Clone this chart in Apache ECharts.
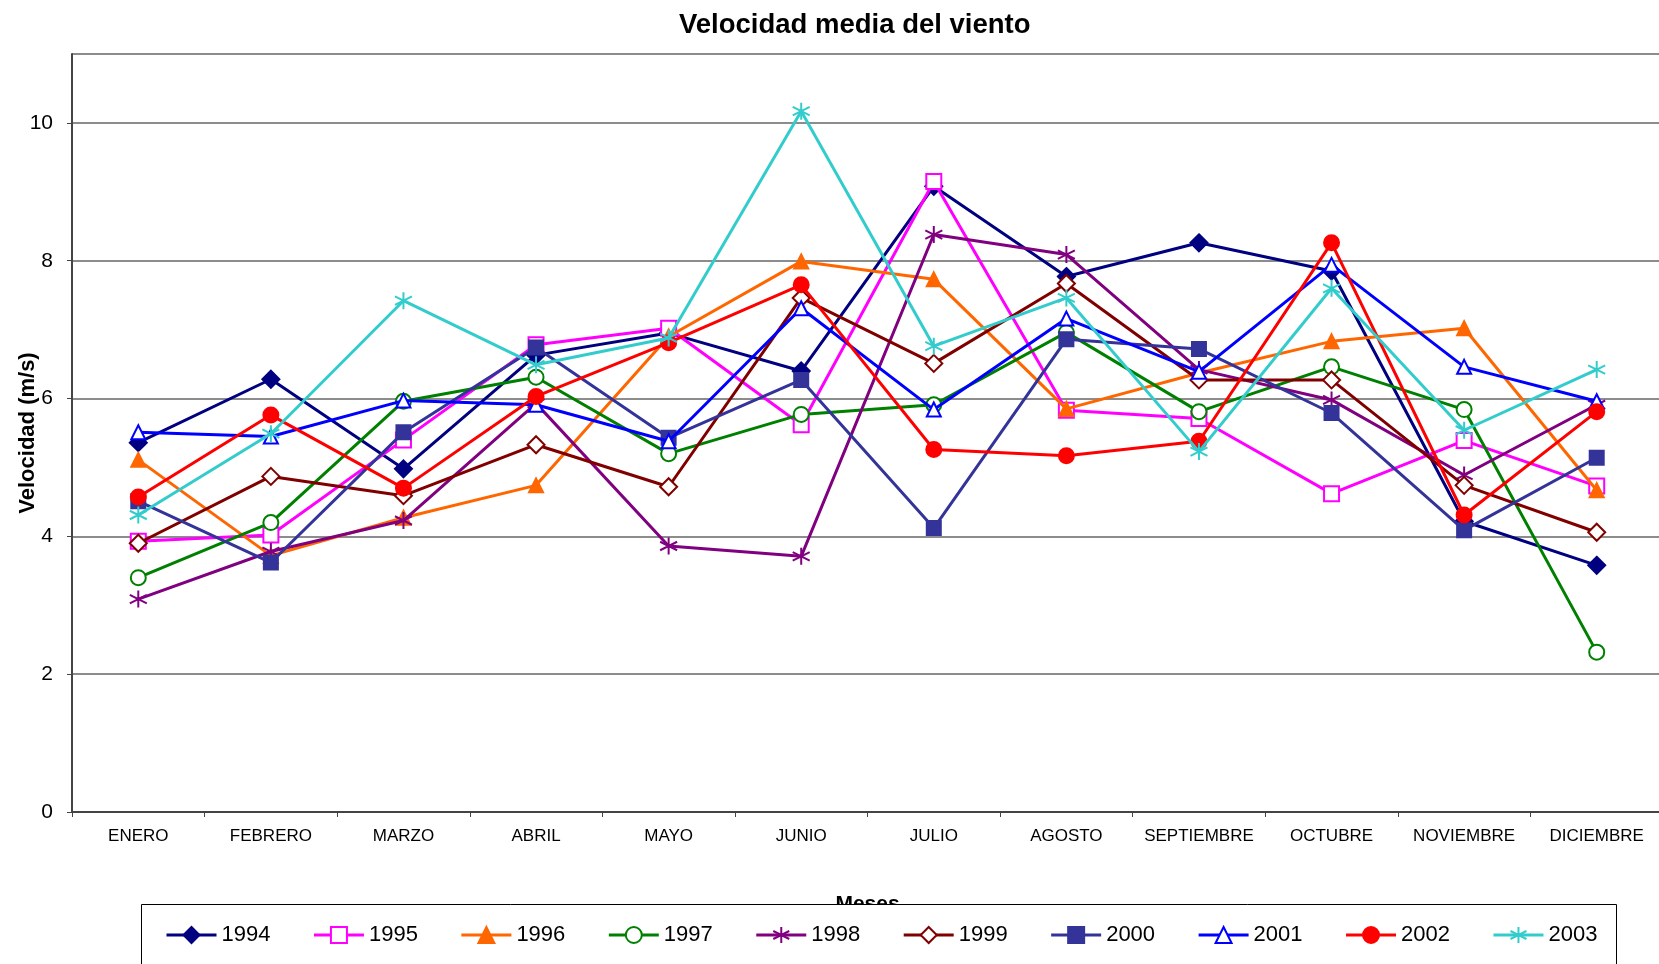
<!DOCTYPE html>
<html>
<head>
<meta charset="utf-8">
<title>Velocidad media del viento</title>
<script src="https://cdn.jsdelivr.net/npm/echarts@6/dist/echarts.min.js"></script>
<style>
  html, body { margin: 0; padding: 0; background: #fff; }
  #chart { width: 1659px; height: 964px; }
</style>
</head>
<body>
<div id="chart"></div>
<script>
// Meses del año
const meses = ['ENERO', 'FEBRERO', 'MARZO', 'ABRIL', 'MAYO', 'JUNIO', 'JULIO',
  'AGOSTO', 'SEPTIEMBRE', 'OCTUBRE', 'NOVIEMBRE', 'DICIEMBRE'];

// Velocidad media mensual del viento (m/s) por año
const v1994 = [5.36, 6.28, 4.98, 6.63, 6.95, 6.40, 9.08, 7.77, 8.26, 7.85, 4.22, 3.58];
const v1995 = [3.93, 4.02, 5.40, 6.78, 7.02, 5.62, 9.15, 5.83, 5.71, 4.62, 5.39, 4.73];
const v1996 = [5.11, 3.72, 4.27, 4.74, 6.90, 7.99, 7.73, 5.85, 6.37, 6.83, 7.02, 4.67];
const v1997 = [3.40, 4.20, 5.96, 6.31, 5.20, 5.77, 5.91, 6.96, 5.81, 6.46, 5.84, 2.32];
const v1998 = [3.09, 3.78, 4.23, 5.93, 3.86, 3.71, 8.38, 8.09, 6.42, 5.98, 4.89, 5.91];
const v1999 = [3.90, 4.87, 4.59, 5.33, 4.72, 7.46, 6.51, 7.67, 6.27, 6.27, 4.74, 4.06];
const v2000 = [4.51, 3.62, 5.51, 6.74, 5.43, 6.27, 4.12, 6.86, 6.72, 5.79, 4.09, 5.14];
const v2001 = [5.51, 5.45, 5.97, 5.91, 5.38, 7.31, 5.84, 7.16, 6.39, 7.94, 6.46, 5.96];
const v2002 = [4.57, 5.76, 4.70, 6.03, 6.81, 7.65, 5.26, 5.17, 5.38, 8.26, 4.31, 5.81];
const v2003 = [4.31, 5.49, 7.42, 6.49, 6.88, 10.17, 6.76, 7.46, 5.23, 7.60, 5.54, 6.42];

const anios = ['1994', '1995', '1996', '1997', '1998', '1999', '2000', '2001', '2002', '2003'];
const valores = [v1994, v1995, v1996, v1997, v1998, v1999, v2000, v2001, v2002, v2003];

// Marcador tipo asterisco (aspa + barra vertical)
const asterisco = 'path://M5,0 L5,10 M0.67,2.5 L9.33,7.5 M0.67,7.5 L9.33,2.5';

// Estilo de cada serie: color, marcador y tamaño
const estilos = [
  { color: '#000080', symbol: 'diamond', size: 17 },
  { color: '#FF00FF', symbol: 'emptyRect', size: 15 },
  { color: '#FF6600', symbol: 'triangle', size: 14 },
  { color: '#008000', symbol: 'emptyCircle', size: 15 },
  { color: '#800080', symbol: asterisco, size: 17 },
  { color: '#800000', symbol: 'emptyDiamond', size: 17 },
  { color: '#333399', symbol: 'rect', size: 14 },
  { color: '#0000FF', symbol: 'emptyTriangle', size: 14 },
  { color: '#FF0000', symbol: 'circle', size: 15 },
  { color: '#33CCCC', symbol: asterisco, size: 17 }
];

const FONT = '"Liberation Sans", Arial, sans-serif';

const series = anios.map((anio, i) => ({
  name: anio,
  type: 'line',
  data: valores[i],
  symbol: estilos[i].symbol,
  symbolSize: estilos[i].size,
  showAllSymbol: true,
  animation: false,
  lineStyle: { color: estilos[i].color, width: 3 },
  itemStyle: { color: estilos[i].color, borderColor: estilos[i].color, borderWidth: 2 },
  emphasis: { disabled: true },
  z: 3 + i
}));

const chart = echarts.init(document.getElementById('chart'), null, { renderer: 'canvas' });

chart.setOption({
  backgroundColor: '#ffffff',
  animation: false,
  textStyle: { fontFamily: FONT },
  title: {
    text: 'Velocidad media del viento',
    left: 674,
    top: 6,
    textStyle: { fontFamily: FONT, fontSize: 27.5, fontWeight: 'bold', color: '#000' }
  },
  grid: { left: 72, right: -4, top: 54, bottom: 152, containLabel: false, outerBoundsMode: 'none' },
  xAxis: {
    type: 'category',
    data: meses,
    boundaryGap: true,
    name: 'Meses',
    nameLocation: 'middle',
    nameGap: 82,
    nameMoveOverlap: false,
    nameTextStyle: { fontFamily: FONT, fontSize: 21, fontWeight: 'bold', color: '#000' },
    axisLine: { lineStyle: { color: '#444', width: 2 } },
    axisTick: { show: true, length: 5, lineStyle: { color: '#444', width: 1 } },
    axisLabel: { fontFamily: FONT, fontSize: 17, color: '#000', margin: 16, interval: 0 },
    splitLine: { show: false }
  },
  yAxis: {
    type: 'value',
    min: 0,
    max: 11,
    interval: 2,
    name: 'Velocidad (m/s)',
    nameLocation: 'middle',
    nameGap: 33,
    nameRotate: 90,
    nameMoveOverlap: false,
    nameTextStyle: { fontFamily: FONT, fontSize: 22, fontWeight: 'bold', color: '#000' },
    axisLine: { show: true, lineStyle: { color: '#444', width: 2 } },
    axisTick: { show: true, length: 5, lineStyle: { color: '#444', width: 1 } },
    axisLabel: { fontFamily: FONT, fontSize: 21, color: '#000', margin: 19, showMaxLabel: false },
    splitLine: { show: true, lineStyle: { color: '#666', width: 1.5 } }
  },
  legend: {
    data: anios,
    left: 160,
    top: 919,
    itemWidth: 50,
    itemHeight: 20,
    itemGap: 42,
    z: 20,
    lineStyle: { width: 3 },
    textStyle: { fontFamily: FONT, fontSize: 22, color: '#000' }
  },
  graphic: [{
    type: 'rect',
    z: 15,
    shape: { x: 141.5, y: 904.5, width: 1475, height: 80 },
    style: { fill: '#ffffff', stroke: '#000', lineWidth: 1 }
  }],
  series: series
});
</script>
</body>
</html>
